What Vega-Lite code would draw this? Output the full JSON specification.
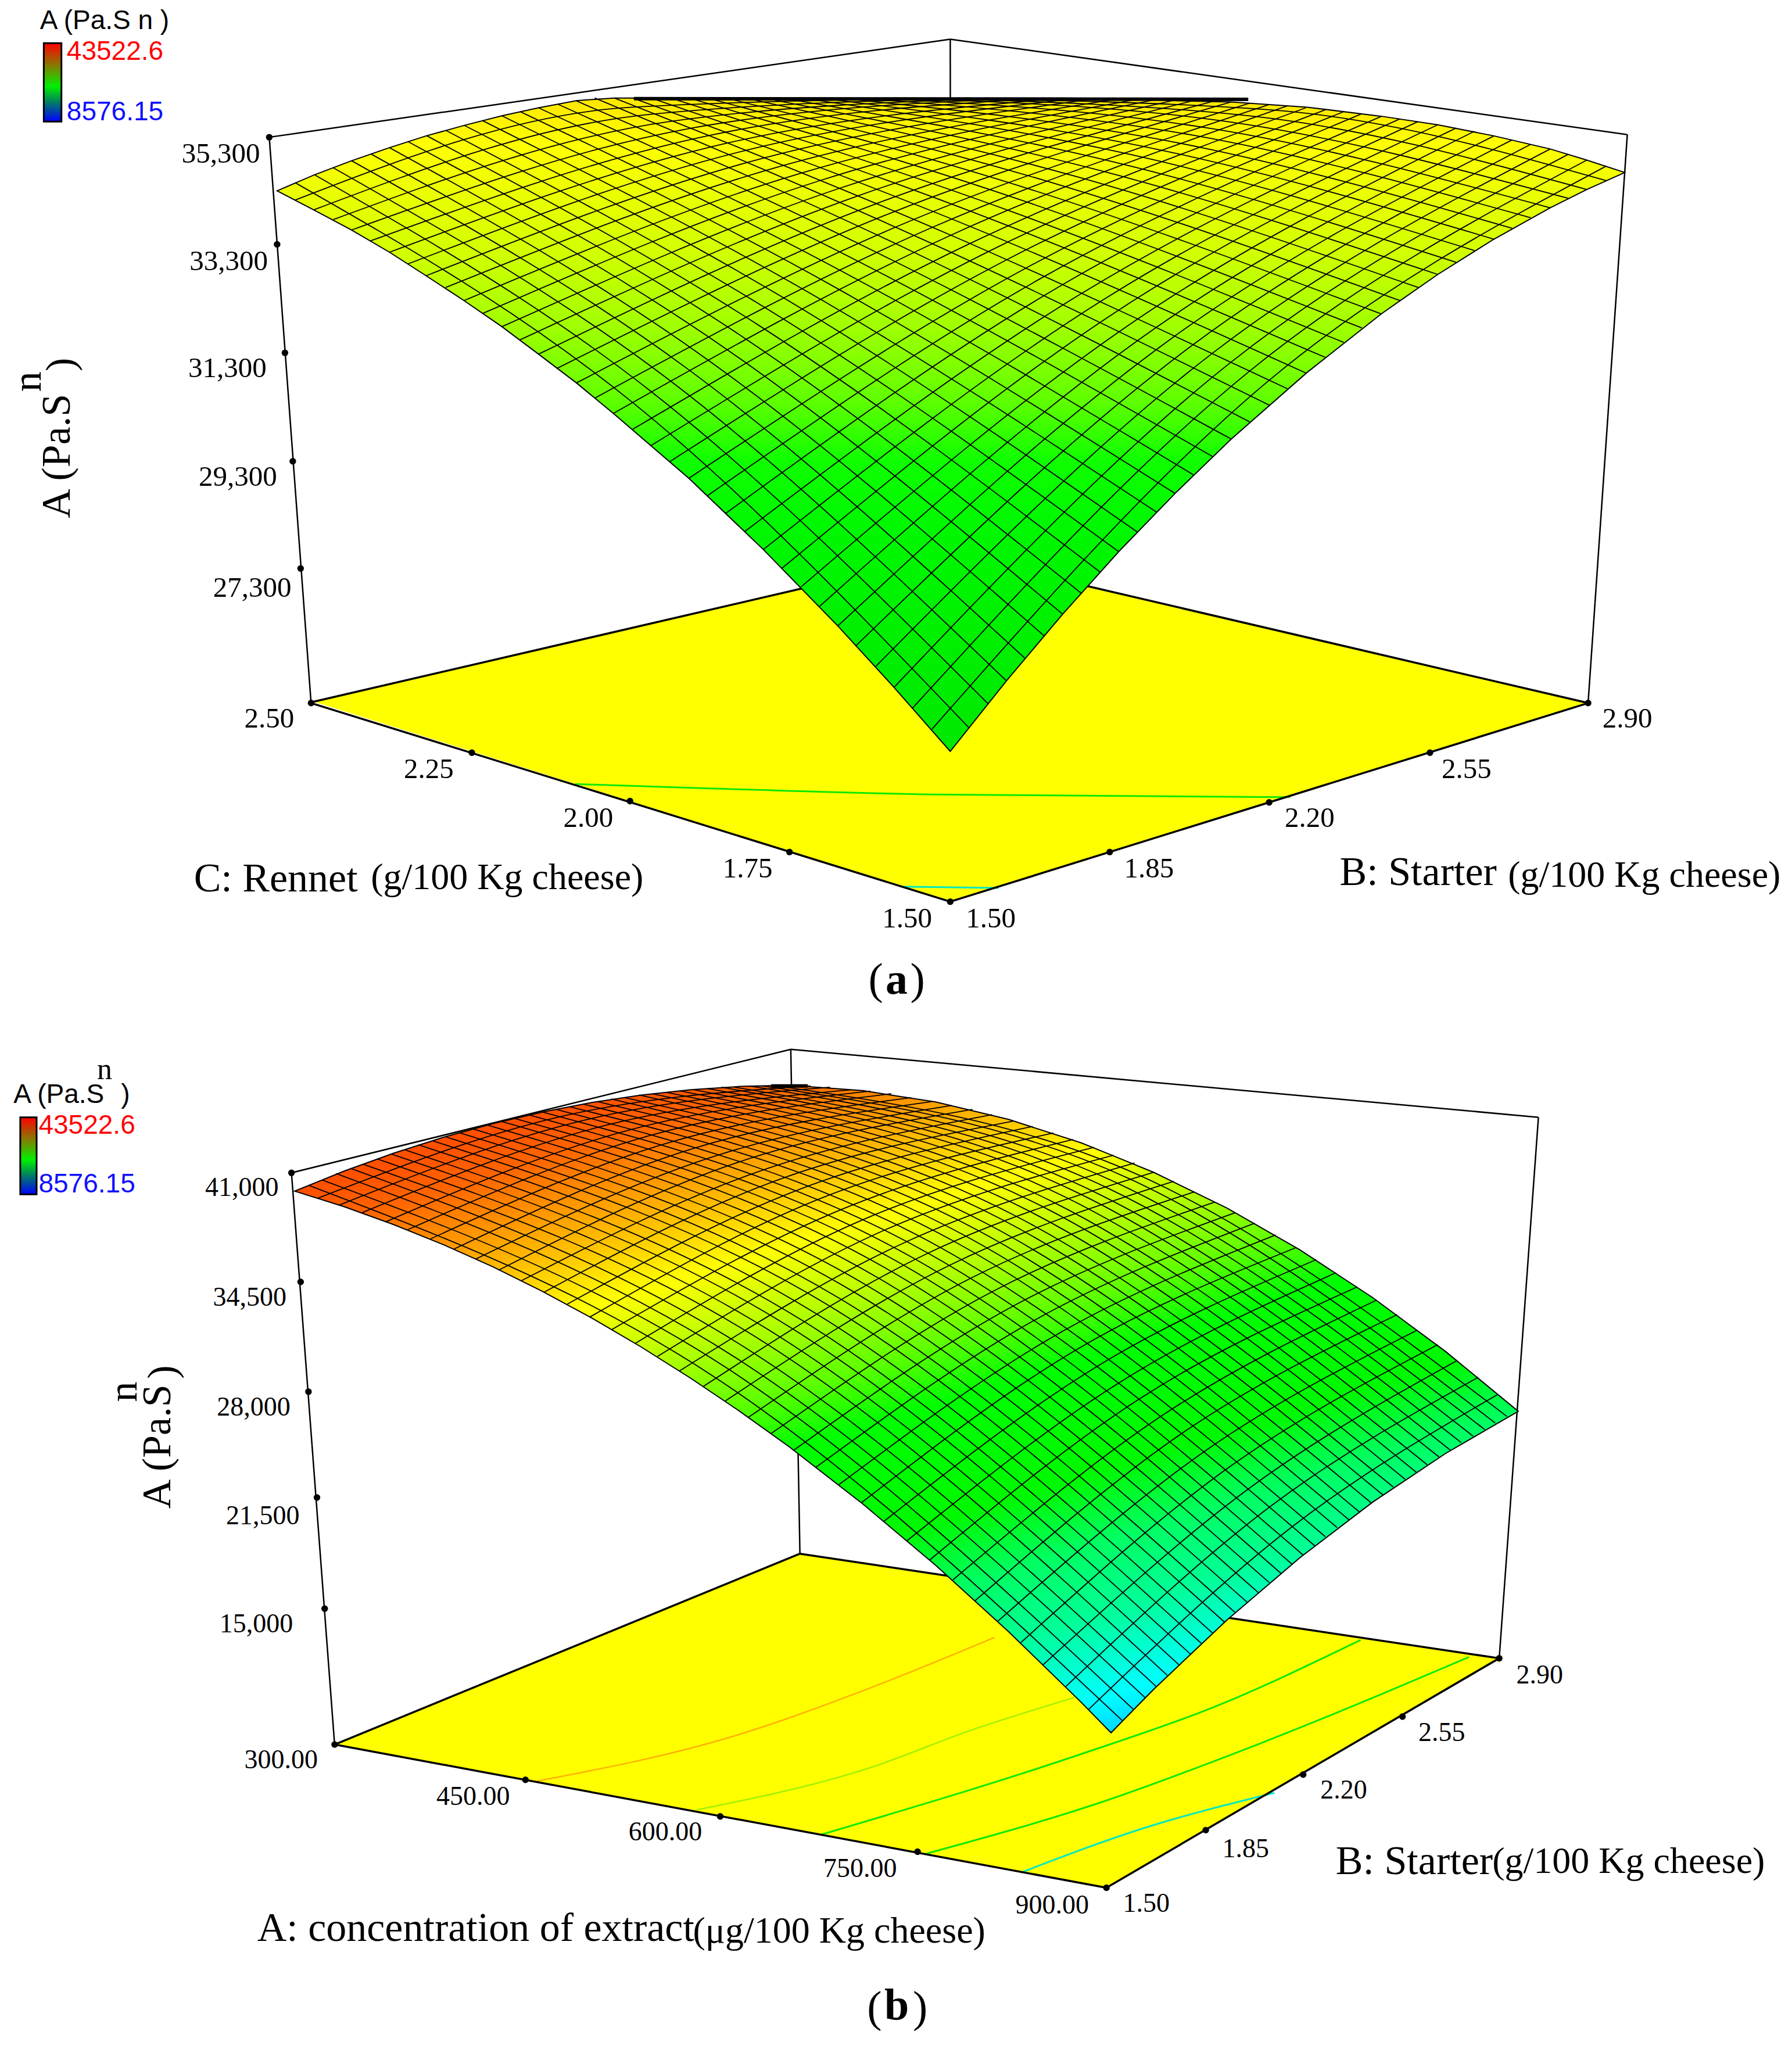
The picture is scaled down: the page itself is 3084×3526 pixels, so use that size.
{"$schema":"https://vega.github.io/schema/vega-lite/v6.json","width":3084,"height":3526,"padding":0,"autosize":{"type":"fit","contains":"padding"},"background":"white","config":{"view":{"stroke":null}},
"encoding":{"x":{"field":"x","type":"quantitative","axis":null,"scale":{"domain":[0,1371],"nice":false,"zero":false}},"y":{"field":"y","type":"quantitative","axis":null,"scale":{"domain":[1568,0],"nice":false,"zero":false}}},
"layer":[
{"data":{"values":[{"f":"a","x":240,"y":537,"y2":537},{"f":"a","x":727,"y":424,"y2":690},{"f":"a","x":1215,"y":538,"y2":538},{"f":"b","x":256,"y":1335,"y2":1335},{"f":"b","x":612,"y":1189,"y2":1401},{"f":"b","x":846.5,"y":1224,"y2":1444.6},{"f":"b","x":1147,"y":1269,"y2":1269}]},"mark":{"type":"area","color":"#ffff00"},"encoding":{"y2":{"field":"y2"},"detail":{"field":"f"}}},
{"data":{"values":[{"c":"a1","x":440,"y":600},{"c":"a1","x":533,"y":603},{"c":"a1","x":716,"y":608},{"c":"a1","x":987,"y":610},{"c":"b3","x":628,"y":1404},{"c":"b3","x":831,"y":1341},{"c":"b3","x":927,"y":1307},{"c":"b3","x":1041,"y":1255},{"c":"b4","x":707,"y":1419},{"c":"b4","x":840,"y":1380},{"c":"b4","x":962,"y":1335},{"c":"b4","x":1124,"y":1268}]},"mark":{"type":"line","color":"#10e800","strokeWidth":3,"interpolate":"monotone"},"encoding":{"detail":{"field":"c"}}},
{"data":{"values":[{"c":"a2","x":689,"y":678.5},{"c":"a2","x":764,"y":679.5},{"c":"b5","x":781,"y":1433},{"c":"b5","x":875,"y":1399},{"c":"b5","x":975,"y":1372}]},"mark":{"type":"line","color":"#00e8c0","strokeWidth":3,"interpolate":"monotone"},"encoding":{"detail":{"field":"c"}}},
{"data":{"values":[{"c":"b1","x":411,"y":1363},{"c":"b1","x":560,"y":1329},{"c":"b1","x":665,"y":1292},{"c":"b1","x":761,"y":1253}]},"mark":{"type":"line","color":"#ffb000","strokeWidth":2.5,"interpolate":"monotone"},"encoding":{"detail":{"field":"c"}}},
{"data":{"values":[{"c":"b2","x":533,"y":1385},{"c":"b2","x":665,"y":1353},{"c":"b2","x":743,"y":1324},{"c":"b2","x":822,"y":1299}]},"mark":{"type":"line","color":"#a0f000","strokeWidth":2.5,"interpolate":"monotone"},"encoding":{"detail":{"field":"c"}}},
{"data":{"values":[{"c":"f1","x":240,"y":537},{"c":"f1","x":727,"y":424},{"c":"f2","x":727,"y":424},{"c":"f2","x":1215,"y":538},{"c":"f3","x":238,"y":538},{"c":"f3","x":727,"y":690},{"c":"f4","x":727,"y":690},{"c":"f4","x":1215,"y":538},{"c":"g1","x":256,"y":1335},{"c":"g1","x":612,"y":1189},{"c":"g2","x":612,"y":1189},{"c":"g2","x":1147,"y":1269},{"c":"g3","x":256,"y":1335},{"c":"g3","x":846.5,"y":1444.6},{"c":"g4","x":846.5,"y":1444.6},{"c":"g4","x":1147,"y":1269}]},"mark":{"type":"line","color":"black","strokeWidth":3.5},"encoding":{"detail":{"field":"c"}}},
{"data":{"values":[{"c":"h1","x":206,"y":105},{"c":"h1","x":238,"y":538},{"c":"h2","x":206,"y":105},{"c":"h2","x":727,"y":30},{"c":"h3","x":727,"y":30},{"c":"h3","x":1245,"y":103},{"c":"h4","x":727,"y":30},{"c":"h4","x":727.5,"y":424},{"c":"h5","x":1215,"y":538},{"c":"h5","x":1245,"y":103},{"c":"k1","x":223,"y":897.5},{"c":"k1","x":256,"y":1335},{"c":"k2","x":223,"y":897.5},{"c":"k2","x":605,"y":803},{"c":"k3","x":605,"y":803},{"c":"k3","x":1177,"y":855},{"c":"k4","x":605,"y":803},{"c":"k4","x":612,"y":1189},{"c":"k5","x":1147,"y":1269},{"c":"k5","x":1177,"y":855}]},"mark":{"type":"line","color":"black","strokeWidth":2.5},"encoding":{"detail":{"field":"c"}}},
{"data":{"values":[{"x":206,"y":105},{"x":212,"y":187},{"x":218,"y":270},{"x":224,"y":353},{"x":230,"y":435},{"x":238,"y":538},{"x":361,"y":576},{"x":482,"y":613},{"x":604,"y":652},{"x":727,"y":690},{"x":849,"y":652},{"x":971,"y":614},{"x":1094,"y":576},{"x":1215,"y":538},{"x":223,"y":897.5},{"x":230,"y":981},{"x":236,"y":1065},{"x":242.5,"y":1146},{"x":248.4,"y":1231},{"x":256,"y":1335},{"x":402,"y":1362},{"x":551,"y":1390},{"x":702,"y":1417},{"x":846.5,"y":1444.6},{"x":922.5,"y":1400.5},{"x":997,"y":1358},{"x":1073,"y":1313.6},{"x":1147,"y":1269}]},"mark":{"type":"point","filled":true,"color":"black","opacity":1,"size":130}},
{"data":{"values":[{"x":212,"y":146,"y2":146},{"x":240,"y":134,"y2":160.6},{"x":269,"y":123,"y2":176},{"x":298,"y":113,"y2":193},{"x":326,"y":104,"y2":211},{"x":355,"y":96,"y2":230},{"x":384,"y":88.6,"y2":250},{"x":412,"y":82.5,"y2":271},{"x":441,"y":77,"y2":293},{"x":470,"y":75,"y2":317},{"x":527,"y":75,"y2":366},{"x":584,"y":75,"y2":420.5},{"x":641,"y":75,"y2":479},{"x":684,"y":75,"y2":526},{"x":727,"y":75,"y2":575},{"x":770,"y":75,"y2":521},{"x":813,"y":75,"y2":470},{"x":856,"y":75.5,"y2":422},{"x":899,"y":77,"y2":377.6},{"x":942,"y":78,"y2":336},{"x":1000,"y":82,"y2":285},{"x":1057,"y":89,"y2":240},{"x":1100,"y":95.5,"y2":210},{"x":1143,"y":104,"y2":183},{"x":1186,"y":114,"y2":159},{"x":1214,"y":122.5,"y2":145},{"x":1243,"y":132,"y2":132}]},"mark":{"type":"area","stroke":"black","strokeWidth":2,"color":{"gradient":"linear","x1":0,"y1":0,"x2":0,"y2":1,"stops":[{"offset":0,"color":"#ffe600"},{"offset":0.07,"color":"#ffff00"},{"offset":0.23,"color":"#d4ff00"},{"offset":0.35,"color":"#a0ff00"},{"offset":0.462,"color":"#60ff00"},{"offset":0.554,"color":"#10ff00"},{"offset":0.65,"color":"#00f800"},{"offset":1,"color":"#00e800"}]}},"encoding":{"y2":{"field":"y2"}}},
{"data":{"values":[{"x":225.4,"y":911.5,"y2":911.5},{"x":263.3,"y":896.2,"y2":923.4},{"x":301.1,"y":882.5,"y2":937.1},{"x":339,"y":870.4,"y2":952.4},{"x":376.8,"y":859.9,"y2":969.3},{"x":414.7,"y":851,"y2":988.1},{"x":452.6,"y":843.7,"y2":1008.5},{"x":490.4,"y":838,"y2":1030.7},{"x":528.3,"y":833.9,"y2":1054.6},{"x":566.1,"y":831.4,"y2":1080.1},{"x":604,"y":830.5,"y2":1107.3},{"x":660.1,"y":834.6,"y2":1150.9},{"x":715.8,"y":843.3,"y2":1197.8},{"x":771.6,"y":856.6,"y2":1248.6},{"x":827.3,"y":874.6,"y2":1302.8},{"x":850,"y":883.8,"y2":1326},{"x":883,"y":897.3,"y2":1292.4},{"x":938.7,"y":924.5,"y2":1239.7},{"x":994.4,"y":956.4,"y2":1192.1},{"x":1050.2,"y":993,"y2":1149.5},{"x":1105.9,"y":1034.2,"y2":1112.3},{"x":1161.6,"y":1080,"y2":1080}]},"mark":{"type":"area","stroke":"black","strokeWidth":2,"color":{"gradient":"linear","x1":0,"y1":0,"x2":0.6905,"y2":1.181,"stops":[{"offset":0.103,"color":"#ff5000"},{"offset":0.145,"color":"#ff6400"},{"offset":0.244,"color":"#ffc000"},{"offset":0.305,"color":"#ffff00"},{"offset":0.379,"color":"#b0ff00"},{"offset":0.445,"color":"#60ff00"},{"offset":0.504,"color":"#00ff00"},{"offset":0.618,"color":"#00f800"},{"offset":0.687,"color":"#00ff60"},{"offset":0.76,"color":"#00ff99"},{"offset":0.84,"color":"#00ffff"},{"offset":0.877,"color":"#00d8ff"}]}},"encoding":{"y2":{"field":"y2"}}},
{"data":{"values":[
{"m":"b1","x":833,"y":1308},{"m":"b1","x":989,"y":1168},{"m":"b1","x":1146,"y":1067},
{"m":"b2","x":815,"y":1291},{"m":"b2","x":973,"y":1152},{"m":"b2","x":1131,"y":1054},
{"m":"b3","x":798,"y":1274},{"m":"b3","x":957,"y":1138},{"m":"b3","x":1115,"y":1041},
{"m":"b4","x":781,"y":1257},{"m":"b4","x":940,"y":1123},{"m":"b4","x":1100,"y":1029},
{"m":"b5","x":763,"y":1241},{"m":"b5","x":924,"y":1109},{"m":"b5","x":1084,"y":1018},
{"m":"b6","x":746,"y":1225},{"m":"b6","x":907,"y":1095},{"m":"b6","x":1069,"y":1006},
{"m":"b7","x":729,"y":1209},{"m":"b7","x":891,"y":1082},{"m":"b7","x":1053,"y":995},
{"m":"b8","x":711,"y":1194},{"m":"b8","x":874,"y":1069},{"m":"b8","x":1038,"y":985},
{"m":"b9","x":694,"y":1179},{"m":"b9","x":858,"y":1057},{"m":"b9","x":1022,"y":974},
{"m":"b10","x":676.5,"y":1164},{"m":"b10","x":842,"y":1044},{"m":"b10","x":1007,"y":964},
{"m":"b11","x":659,"y":1150},{"m":"b11","x":825,"y":1032},{"m":"b11","x":991,"y":955},
{"m":"b12","x":642,"y":1136},{"m":"b12","x":809,"y":1021},{"m":"b12","x":976,"y":945},
{"m":"b13","x":624,"y":1123},{"m":"b13","x":792,"y":1010},{"m":"b13","x":960,"y":936},
{"m":"b14","x":607,"y":1110},{"m":"b14","x":776,"y":999},{"m":"b14","x":945,"y":928},
{"m":"b15","x":590,"y":1097},{"m":"b15","x":760,"y":988},{"m":"b15","x":929,"y":920},
{"m":"b16","x":572,"y":1085},{"m":"b16","x":743,"y":978},{"m":"b16","x":914,"y":912},
{"m":"b17","x":555,"y":1072},{"m":"b17","x":727,"y":968},{"m":"b17","x":898,"y":904},
{"m":"b18","x":538,"y":1061},{"m":"b18","x":710,"y":959},{"m":"b18","x":883,"y":897},
{"m":"b19","x":520,"y":1049},{"m":"b19","x":694,"y":950},{"m":"b19","x":868,"y":890},
{"m":"b20","x":503,"y":1038},{"m":"b20","x":677.5,"y":941},{"m":"b20","x":852,"y":884},
{"m":"b21","x":486,"y":1028},{"m":"b21","x":661,"y":933},{"m":"b21","x":837,"y":878},
{"m":"b22","x":468,"y":1017.5},{"m":"b22","x":645,"y":925},{"m":"b22","x":821,"y":872},
{"m":"b23","x":451,"y":1008},{"m":"b23","x":628,"y":917},{"m":"b23","x":806,"y":867},
{"m":"b24","x":434,"y":998},{"m":"b24","x":612,"y":910},{"m":"b24","x":790,"y":862},
{"m":"b25","x":416,"y":989},{"m":"b25","x":595,"y":903},{"m":"b25","x":775,"y":858},
{"m":"b26","x":399,"y":980},{"m":"b26","x":579,"y":897},{"m":"b26","x":759,"y":853},
{"m":"b27","x":381.5,"y":972},{"m":"b27","x":563,"y":890},{"m":"b27","x":744,"y":849},
{"m":"b28","x":364,"y":963.5},{"m":"b28","x":546,"y":885},{"m":"b28","x":728,"y":846},
{"m":"b29","x":347,"y":956},{"m":"b29","x":530,"y":879},{"m":"b29","x":713,"y":843},
{"m":"b30","x":329.5,"y":948},{"m":"b30","x":513,"y":874},{"m":"b30","x":697,"y":840},
{"m":"b31","x":312,"y":941},{"m":"b31","x":497,"y":869},{"m":"b31","x":682,"y":837},
{"m":"b32","x":295,"y":935},{"m":"b32","x":480.5,"y":865},{"m":"b32","x":666,"y":835},
{"m":"b33","x":277,"y":928},{"m":"b33","x":464,"y":861},{"m":"b33","x":651,"y":834},
{"m":"b34","x":260,"y":922},{"m":"b34","x":448,"y":857},{"m":"b34","x":635,"y":832},
{"m":"b35","x":243,"y":917},{"m":"b35","x":431,"y":854},{"m":"b35","x":620,"y":831},
{"m":"B1","x":859,"y":1317},{"m":"B1","x":547,"y":1054},{"m":"B1","x":236,"y":907},
{"m":"B2","x":867,"y":1308},{"m":"B2","x":557,"y":1047.5},{"m":"B2","x":246.5,"y":903},
{"m":"B3","x":876,"y":1299},{"m":"B3","x":566,"y":1041},{"m":"B3","x":257,"y":898},
{"m":"B4","x":885,"y":1291},{"m":"B4","x":576,"y":1035},{"m":"B4","x":268,"y":894},
{"m":"B5","x":893,"y":1282},{"m":"B5","x":586,"y":1028},{"m":"B5","x":278,"y":891},
{"m":"B6","x":902,"y":1274},{"m":"B6","x":595,"y":1022},{"m":"B6","x":289,"y":887},
{"m":"B7","x":911,"y":1266},{"m":"B7","x":605,"y":1016},{"m":"B7","x":299,"y":883},
{"m":"B8","x":919,"y":1257.5},{"m":"B8","x":614,"y":1010.6},{"m":"B8","x":310,"y":880},
{"m":"B9","x":928,"y":1250},{"m":"B9","x":624,"y":1005},{"m":"B9","x":320,"y":876},
{"m":"B10","x":937,"y":1241.5},{"m":"B10","x":634,"y":999},{"m":"B10","x":331,"y":873},
{"m":"B11","x":945,"y":1234},{"m":"B11","x":643,"y":994},{"m":"B11","x":341,"y":870},
{"m":"B12","x":954,"y":1226},{"m":"B12","x":653,"y":988.5},{"m":"B12","x":352,"y":867},
{"m":"B13","x":963,"y":1219},{"m":"B13","x":662,"y":983},{"m":"B13","x":362,"y":864},
{"m":"B14","x":971,"y":1211},{"m":"B14","x":672,"y":978},{"m":"B14","x":373,"y":861},
{"m":"B15","x":980,"y":1204},{"m":"B15","x":682,"y":973},{"m":"B15","x":383,"y":858},
{"m":"B16","x":988.5,"y":1197},{"m":"B16","x":691,"y":968},{"m":"B16","x":394,"y":856},
{"m":"B17","x":997,"y":1190},{"m":"B17","x":701,"y":964},{"m":"B17","x":404,"y":853},
{"m":"B18","x":1006,"y":1183},{"m":"B18","x":710,"y":959},{"m":"B18","x":415,"y":851},
{"m":"B19","x":1014,"y":1176},{"m":"B19","x":720,"y":955},{"m":"B19","x":425.5,"y":849},
{"m":"B20","x":1023,"y":1169},{"m":"B20","x":730,"y":950},{"m":"B20","x":436,"y":847},
{"m":"B21","x":1032,"y":1163},{"m":"B21","x":739,"y":946},{"m":"B21","x":446.5,"y":845},
{"m":"B22","x":1040,"y":1157},{"m":"B22","x":749,"y":942},{"m":"B22","x":457,"y":843},
{"m":"B23","x":1049,"y":1150},{"m":"B23","x":758,"y":938},{"m":"B23","x":467.5,"y":841},
{"m":"B24","x":1058,"y":1144},{"m":"B24","x":768,"y":934},{"m":"B24","x":478,"y":840},
{"m":"B25","x":1066,"y":1138},{"m":"B25","x":777,"y":930.5},{"m":"B25","x":489,"y":838},
{"m":"B26","x":1075,"y":1132},{"m":"B26","x":787,"y":926.6},{"m":"B26","x":499,"y":837},
{"m":"B27","x":1084,"y":1127},{"m":"B27","x":797,"y":923},{"m":"B27","x":510,"y":836},
{"m":"B28","x":1092,"y":1121},{"m":"B28","x":806,"y":920},{"m":"B28","x":520,"y":834.7},
{"m":"B29","x":1101,"y":1115},{"m":"B29","x":816,"y":916.5},{"m":"B29","x":531,"y":834},
{"m":"B30","x":1110,"y":1110},{"m":"B30","x":825,"y":913},{"m":"B30","x":541,"y":833},
{"m":"B31","x":1118,"y":1104},{"m":"B31","x":835,"y":911},{"m":"B31","x":552,"y":832},
{"m":"B32","x":1127,"y":1099},{"m":"B32","x":845,"y":908},{"m":"B32","x":562,"y":832},
{"m":"B33","x":1136,"y":1094},{"m":"B33","x":854,"y":905},{"m":"B33","x":573,"y":831},
{"m":"B34","x":1144,"y":1089},{"m":"B34","x":864,"y":902},{"m":"B34","x":583,"y":831},
{"m":"B35","x":1153,"y":1084},{"m":"B35","x":873,"y":900},{"m":"B35","x":594,"y":831},
{"m":"a1","x":713,"y":558},{"m":"a1","x":971,"y":291},{"m":"a1","x":1229,"y":127},
{"m":"a2","x":698,"y":542},{"m":"a2","x":956,"y":284},{"m":"a2","x":1214,"y":122.5},
{"m":"a3","x":684,"y":526},{"m":"a3","x":942,"y":277},{"m":"a3","x":1200,"y":118},
{"m":"a4","x":670,"y":510},{"m":"a4","x":928,"y":270},{"m":"a4","x":1186,"y":114},
{"m":"a5","x":655,"y":494},{"m":"a5","x":913,"y":263.6},{"m":"a5","x":1171,"y":110.5},
{"m":"a6","x":641,"y":479},{"m":"a6","x":899,"y":257},{"m":"a6","x":1157,"y":107},
{"m":"a7","x":627,"y":464},{"m":"a7","x":885,"y":250.3},{"m":"a7","x":1143,"y":104},
{"m":"a8","x":613,"y":449},{"m":"a8","x":871,"y":243.7},{"m":"a8","x":1128,"y":100.5},
{"m":"a9","x":598,"y":435},{"m":"a9","x":856,"y":237.2},{"m":"a9","x":1114,"y":98},
{"m":"a10","x":584,"y":420.5},{"m":"a10","x":842,"y":230.7},{"m":"a10","x":1100,"y":95.5},
{"m":"a11","x":570,"y":406.6},{"m":"a11","x":828,"y":224.2},{"m":"a11","x":1085,"y":93},
{"m":"a12","x":555,"y":393},{"m":"a12","x":813,"y":217.8},{"m":"a12","x":1071,"y":91},
{"m":"a13","x":541,"y":379.5},{"m":"a13","x":799,"y":211.5},{"m":"a13","x":1057,"y":89},
{"m":"a14","x":527,"y":366},{"m":"a14","x":785,"y":205.1},{"m":"a14","x":1042,"y":87},
{"m":"a15","x":512,"y":353.5},{"m":"a15","x":770,"y":198.9},{"m":"a15","x":1028,"y":85.5},
{"m":"a16","x":498,"y":341},{"m":"a16","x":756,"y":192.6},{"m":"a16","x":1014,"y":84},
{"m":"a17","x":484,"y":328.5},{"m":"a17","x":742,"y":186.4},{"m":"a17","x":999,"y":82.5},
{"m":"a18","x":469,"y":316.5},{"m":"a18","x":727,"y":180.2},{"m":"a18","x":985,"y":81},
{"m":"a19","x":455,"y":304.7},{"m":"a19","x":713,"y":174.1},{"m":"a19","x":971,"y":80},
{"m":"a20","x":441,"y":293},{"m":"a20","x":699,"y":168},{"m":"a20","x":956,"y":79},
{"m":"a21","x":426,"y":282},{"m":"a21","x":684,"y":162},{"m":"a21","x":942,"y":78},
{"m":"a22","x":412,"y":271},{"m":"a22","x":670,"y":156},{"m":"a22","x":928,"y":77.5},
{"m":"a23","x":398,"y":260},{"m":"a23","x":656,"y":150},{"m":"a23","x":913,"y":77},
{"m":"a24","x":384,"y":250},{"m":"a24","x":642,"y":144.2},{"m":"a24","x":899,"y":76.5},
{"m":"a25","x":369,"y":240},{"m":"a25","x":627,"y":138.3},{"m":"a25","x":885,"y":76},
{"m":"a26","x":355,"y":230},{"m":"a26","x":613,"y":132.5},{"m":"a26","x":870,"y":76},
{"m":"a27","x":341,"y":220},{"m":"a27","x":599,"y":126.7},{"m":"a27","x":856,"y":75.5},
{"m":"a28","x":326,"y":211},{"m":"a28","x":584,"y":121},{"m":"a28","x":842,"y":75},
{"m":"a29","x":312,"y":202},{"m":"a29","x":570,"y":115.2},{"m":"a29","x":827,"y":75},
{"m":"a30","x":298,"y":193},{"m":"a30","x":556,"y":109.6},{"m":"a30","x":813,"y":75},
{"m":"a31","x":283,"y":184.5},{"m":"a31","x":541,"y":104},{"m":"a31","x":799,"y":75},
{"m":"a32","x":269,"y":176},{"m":"a32","x":527,"y":98.4},{"m":"a32","x":784,"y":75},
{"m":"a33","x":255,"y":168},{"m":"a33","x":513,"y":92.9},{"m":"a33","x":770,"y":75},
{"m":"a34","x":240,"y":160.6},{"m":"a34","x":498,"y":87.4},{"m":"a34","x":756,"y":75},
{"m":"a35","x":226,"y":153},{"m":"a35","x":484,"y":82},{"m":"a35","x":741,"y":75},
{"m":"A1","x":741,"y":556.6},{"m":"A1","x":484,"y":308},{"m":"A1","x":226,"y":139.9},
{"m":"A2","x":756,"y":538.6},{"m":"A2","x":498,"y":299.5},{"m":"A2","x":241,"y":134},
{"m":"A3","x":770,"y":521},{"m":"A3","x":512.5,"y":291.2},{"m":"A3","x":255,"y":128.4},
{"m":"A4","x":784,"y":503.6},{"m":"A4","x":527,"y":283},{"m":"A4","x":269,"y":123},
{"m":"A5","x":799,"y":486.7},{"m":"A5","x":541,"y":275},{"m":"A5","x":284,"y":117.9},
{"m":"A6","x":813,"y":470},{"m":"A6","x":555.5,"y":267},{"m":"A6","x":298,"y":113},
{"m":"A7","x":827,"y":453.8},{"m":"A7","x":570,"y":259},{"m":"A7","x":312,"y":108.3},
{"m":"A8","x":842,"y":438},{"m":"A8","x":584,"y":251.2},{"m":"A8","x":326.5,"y":103.9},
{"m":"A9","x":856,"y":422.2},{"m":"A9","x":598.5,"y":243.6},{"m":"A9","x":341,"y":99.75},
{"m":"A10","x":870,"y":407},{"m":"A10","x":613,"y":236},{"m":"A10","x":355,"y":95.8},
{"m":"A11","x":885,"y":392},{"m":"A11","x":627,"y":228.6},{"m":"A11","x":369,"y":92.2},
{"m":"A12","x":899,"y":377.6},{"m":"A12","x":641.5,"y":221.3},{"m":"A12","x":384,"y":88.6},
{"m":"A13","x":913,"y":363.3},{"m":"A13","x":656,"y":214},{"m":"A13","x":398,"y":85.4},
{"m":"A14","x":928,"y":349.5},{"m":"A14","x":670,"y":206.9},{"m":"A14","x":412,"y":82.5},
{"m":"A15","x":942,"y":336},{"m":"A15","x":684.5,"y":200},{"m":"A15","x":427,"y":79.8},
{"m":"A16","x":956,"y":322.8},{"m":"A16","x":699,"y":193},{"m":"A16","x":441,"y":77.2},
{"m":"A17","x":971,"y":310},{"m":"A17","x":713,"y":186.4},{"m":"A17","x":455,"y":75},
{"m":"A18","x":985,"y":297.5},{"m":"A18","x":727.5,"y":180},{"m":"A18","x":470,"y":75},
{"m":"A19","x":999,"y":285.4},{"m":"A19","x":742,"y":173.2},{"m":"A19","x":484,"y":75},
{"m":"A20","x":1014,"y":273.5},{"m":"A20","x":756,"y":166.8},{"m":"A20","x":498,"y":75},
{"m":"A21","x":1028,"y":262},{"m":"A21","x":770,"y":160.5},{"m":"A21","x":513,"y":75},
{"m":"A22","x":1042,"y":251},{"m":"A22","x":785,"y":154.4},{"m":"A22","x":527,"y":75},
{"m":"A23","x":1057,"y":240.3},{"m":"A23","x":799,"y":148.3},{"m":"A23","x":541,"y":75},
{"m":"A24","x":1071,"y":230},{"m":"A24","x":813,"y":142.2},{"m":"A24","x":555,"y":75},
{"m":"A25","x":1085,"y":220},{"m":"A25","x":828,"y":136.4},{"m":"A25","x":570,"y":75},
{"m":"A26","x":1100,"y":210},{"m":"A26","x":842,"y":130.6},{"m":"A26","x":584,"y":75},
{"m":"A27","x":1114,"y":200.7},{"m":"A27","x":856.5,"y":125},{"m":"A27","x":598,"y":75},
{"m":"A28","x":1128,"y":191.7},{"m":"A28","x":871,"y":119.6},{"m":"A28","x":613,"y":75},
{"m":"A29","x":1143,"y":183},{"m":"A29","x":885,"y":114.2},{"m":"A29","x":627,"y":75},
{"m":"A30","x":1157,"y":174.7},{"m":"A30","x":899,"y":108.9},{"m":"A30","x":641,"y":75},
{"m":"A31","x":1171,"y":166.6},{"m":"A31","x":914,"y":103.7},{"m":"A31","x":656,"y":75},
{"m":"A32","x":1186,"y":159},{"m":"A32","x":928,"y":98.6},{"m":"A32","x":670,"y":75},
{"m":"A33","x":1200,"y":151.8},{"m":"A33","x":942.5,"y":93.6},{"m":"A33","x":684,"y":75},
{"m":"A34","x":1214,"y":145},{"m":"A34","x":957,"y":88.8},{"m":"A34","x":698,"y":75},
{"m":"A35","x":1229,"y":138.2},{"m":"A35","x":971,"y":84},{"m":"A35","x":713,"y":75}
]},"mark":{"type":"line","color":"black","strokeWidth":1.8,"interpolate":"monotone"},"encoding":{"detail":{"field":"m"}}},
{"data":{"values":[{"c":"t1","x":485,"y":75.5},{"c":"t1","x":955,"y":76},{"c":"t2","x":590,"y":831},{"c":"t2","x":618,"y":831}]},"mark":{"type":"line","color":"black","strokeWidth":6},"encoding":{"detail":{"field":"c"}}},
{"data":{"values":[{"x":33.5,"x2":47,"y":33,"y2":93},{"x":15.5,"x2":28,"y":855,"y2":914}]},"mark":{"type":"rect","stroke":"black","strokeWidth":3,"color":{"gradient":"linear","x1":0,"y1":0,"x2":0,"y2":1,"stops":[{"offset":0,"color":"#ff0000"},{"offset":0.3,"color":"#808000"},{"offset":0.55,"color":"#00f000"},{"offset":0.75,"color":"#008060"},{"offset":1,"color":"#0000ff"}]}},"encoding":{"x2":{"field":"x2"},"y2":{"field":"y2"}}},
{"data":{"values":[{"x":169,"y":118,"t":"35,300"},{"x":175,"y":200,"t":"33,300"},{"x":174,"y":282,"t":"31,300"},{"x":182,"y":365,"t":"29,300"},{"x":193,"y":450,"t":"27,300"},{"x":206,"y":550,"t":"2.50"},{"x":328,"y":589,"t":"2.25"},{"x":450,"y":626,"t":"2.00"},{"x":572,"y":665,"t":"1.75"},{"x":694,"y":703,"t":"1.50"},{"x":758,"y":703,"t":"1.50"},{"x":879,"y":665,"t":"1.85"},{"x":1002,"y":626,"t":"2.20"},{"x":1122,"y":589,"t":"2.55"},{"x":1245,"y":550,"t":"2.90"}]},"mark":{"type":"text","font":"Liberation Serif","fontSize":49,"color":"black","align":"center","baseline":"middle"},"encoding":{"text":{"field":"t"}}},
{"data":{"values":[{"x":185,"y":909,"t":"41,000"},{"x":191,"y":993,"t":"34,500"},{"x":194,"y":1077,"t":"28,000"},{"x":201,"y":1160,"t":"21,500"},{"x":196,"y":1243,"t":"15,000"},{"x":215,"y":1347,"t":"300.00"},{"x":362,"y":1375,"t":"450.00"},{"x":509,"y":1402,"t":"600.00"},{"x":658,"y":1430,"t":"750.00"},{"x":805,"y":1458,"t":"900.00"},{"x":877,"y":1457,"t":"1.50"},{"x":953,"y":1415,"t":"1.85"},{"x":1028,"y":1370,"t":"2.20"},{"x":1103,"y":1326,"t":"2.55"},{"x":1178,"y":1282,"t":"2.90"}]},"mark":{"type":"text","font":"Liberation Serif","fontSize":46,"color":"black","align":"center","baseline":"middle"},"encoding":{"text":{"field":"t"}}},
{"data":{"values":[{"x":211,"y":673,"t":"C: Rennet"},{"x":1085,"y":668,"t":"B: Starter"},{"x":364,"y":1476,"t":"A: concentration of extract"},{"x":1082,"y":1425,"t":"B: Starter"}]},"mark":{"type":"text","font":"Liberation Serif","fontSize":70,"color":"black","align":"center","baseline":"middle"},"encoding":{"text":{"field":"t"}}},
{"data":{"values":[{"x":388,"y":672,"t":"(g/100 Kg cheese)"},{"x":1258,"y":670,"t":"(g/100 Kg cheese)"},{"x":642,"y":1478,"t":"(μg/100 Kg cheese)"},{"x":1246,"y":1425,"t":"(g/100 Kg cheese)"}]},"mark":{"type":"text","font":"Liberation Serif","fontSize":64,"color":"black","align":"center","baseline":"middle"},"encoding":{"text":{"field":"t"}}},
{"data":{"values":[{"x":44,"y":349,"t":"A (Pa.S"},{"x":22,"y":292,"t":"n"},{"x":47,"y":279,"t":")"},{"x":121,"y":1107,"t":"A (Pa.S"},{"x":95,"y":1065,"t":"n"},{"x":125,"y":1050,"t":")"}]},"mark":{"type":"text","font":"Liberation Serif","fontSize":70,"color":"black","align":"center","baseline":"middle","angle":270},"encoding":{"text":{"field":"t"}}},
{"data":{"values":[{"x":80,"y":16,"t":"A (Pa.S n )"},{"x":45,"y":838,"t":"A (Pa.S"},{"x":96,"y":838,"t":")"}]},"mark":{"type":"text","font":"Liberation Sans","fontSize":46,"color":"black","align":"center","baseline":"middle"},"encoding":{"text":{"field":"t"}}},
{"data":{"values":[{"x":80,"y":818.5,"t":"n"}]},"mark":{"type":"text","font":"Liberation Serif","fontSize":52,"color":"black","align":"center","baseline":"middle"},"encoding":{"text":{"field":"t"}}},
{"data":{"values":[{"x":88,"y":39.5,"t":"43522.6"},{"x":66.5,"y":861.5,"t":"43522.6"}]},"mark":{"type":"text","font":"Liberation Sans","fontSize":46,"color":"#ff0000","align":"center","baseline":"middle"},"encoding":{"text":{"field":"t"}}},
{"data":{"values":[{"x":88,"y":86,"t":"8576.15"},{"x":66.5,"y":906.5,"t":"8576.15"}]},"mark":{"type":"text","font":"Liberation Sans","fontSize":46,"color":"#1010ff","align":"center","baseline":"middle"},"encoding":{"text":{"field":"t"}}},
{"data":{"values":[{"x":670,"y":750,"t":"("},{"x":702,"y":750,"t":")"},{"x":669,"y":1537,"t":"("},{"x":704,"y":1537,"t":")"}]},"mark":{"type":"text","font":"Liberation Serif","fontSize":76,"color":"black","align":"center","baseline":"middle"},"encoding":{"text":{"field":"t"}}},
{"data":{"values":[{"x":686,"y":750,"t":"a"},{"x":686,"y":1535,"t":"b"}]},"mark":{"type":"text","font":"Liberation Serif","fontSize":76,"fontWeight":"bold","color":"black","align":"center","baseline":"middle"},"encoding":{"text":{"field":"t"}}}
]}
